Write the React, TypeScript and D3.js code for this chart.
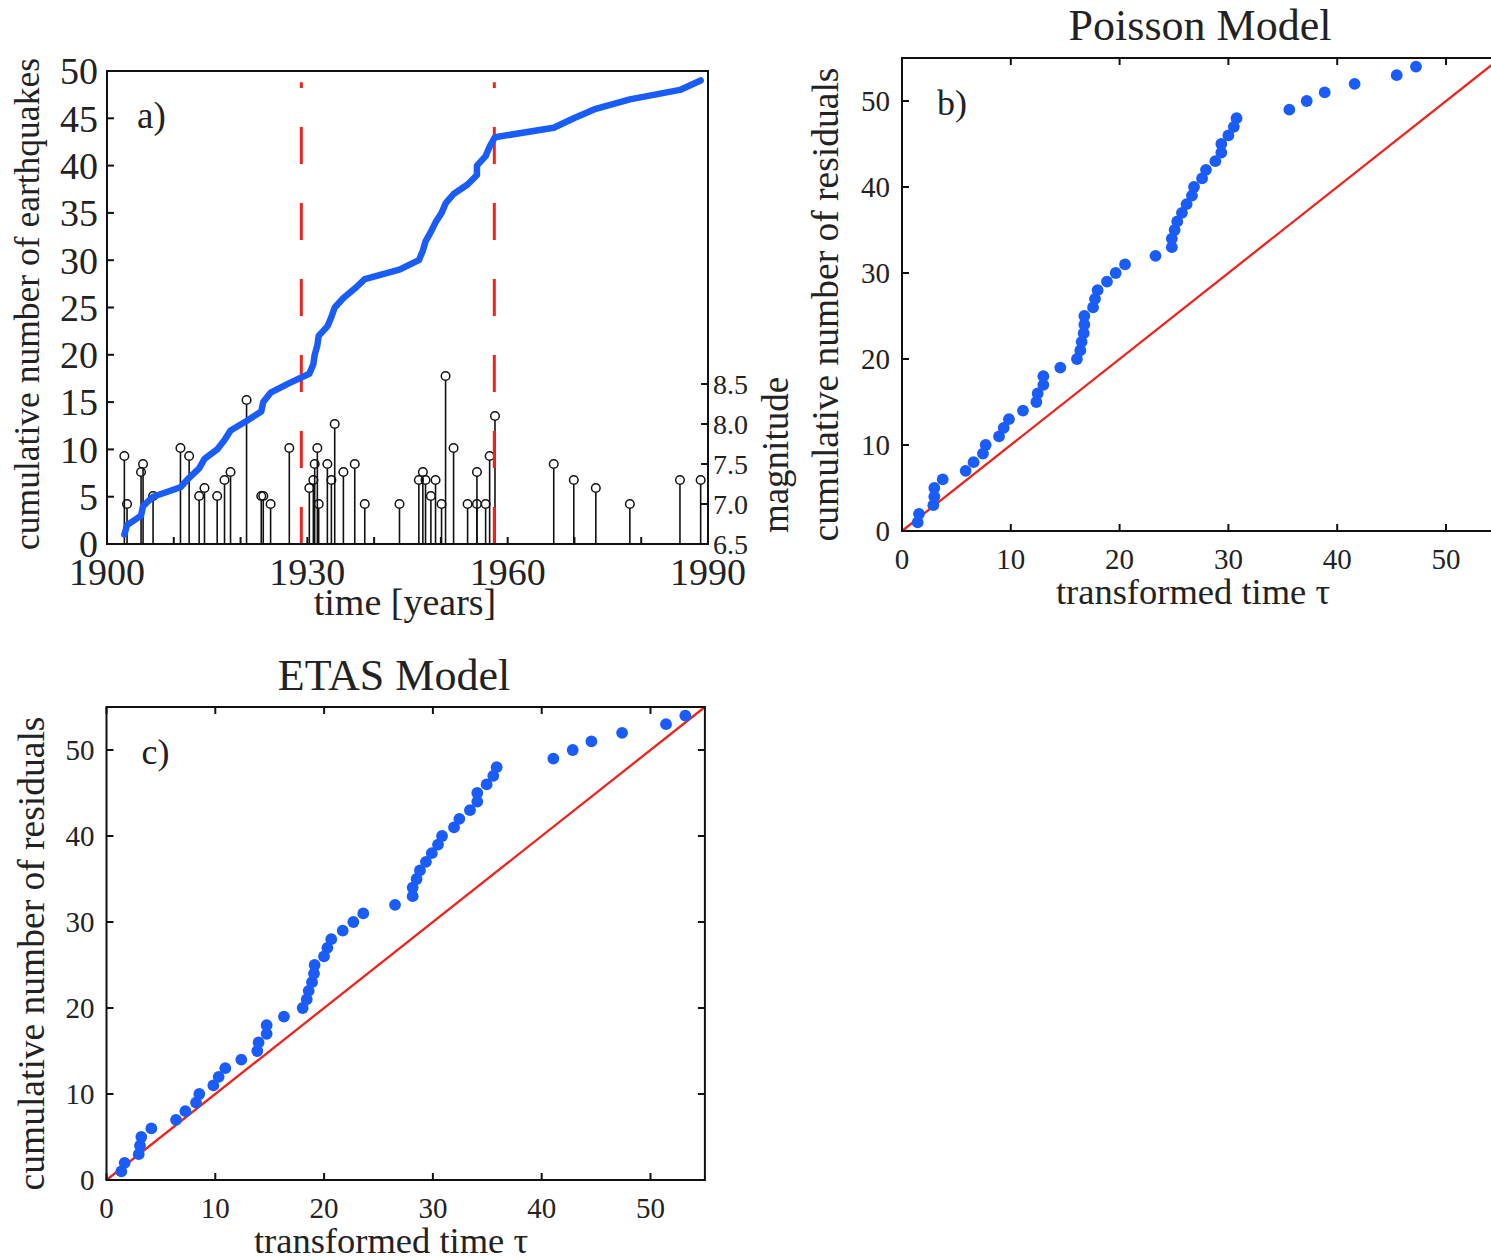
import React from 'react';
import * as d3 from 'd3';

const FONT = '"Liberation Serif", "Times New Roman", serif';
const BLUE = '#1a5cf8';
const RED = '#f0231c';

// Panel a: earthquake catalogue (year, magnitude)
const YEARS = [
  1902.6, 1903.0, 1905.1, 1905.4, 1906.9, 1911.0, 1912.3, 1913.8, 1914.6, 1916.5,
  1917.6, 1918.5, 1920.9, 1923.1, 1923.4, 1924.5, 1927.3, 1930.3, 1930.9, 1931.1,
  1931.5, 1931.7, 1933.0, 1933.6, 1934.1, 1935.4, 1937.1, 1938.6, 1943.8, 1946.7,
  1947.3, 1947.7, 1948.5, 1949.2, 1950.1, 1950.7, 1951.9, 1954.0, 1955.4, 1955.4,
  1956.7, 1957.3, 1958.1, 1966.9, 1969.9, 1973.2, 1978.3, 1985.8, 1988.9,
];
const MAGNITUDES = [
  7.6, 7.0, 7.4, 7.5, 7.1, 7.7, 7.6, 7.1, 7.2, 7.1,
  7.3, 7.4, 8.3, 7.1, 7.1, 7.0, 7.7, 7.2, 7.3, 7.5,
  7.7, 7.0, 7.5, 7.3, 8.0, 7.4, 7.5, 7.0, 7.0, 7.3,
  7.4, 7.3, 7.1, 7.3, 7.0, 8.6, 7.7, 7.0, 7.4, 7.0,
  7.0, 7.6, 8.1, 7.5, 7.3, 7.2, 7.0, 7.3, 7.3,
];
const DASHED_YEARS = [1929.1, 1958.0];
const DASH_TOP = 48.8;
const A_X_TICKS = [1900, 1910, 1920, 1930, 1940, 1950, 1960, 1970, 1980, 1990];
const A_X_LABELS = [1900, 1930, 1960, 1990];
const A_Y_TICKS = [0, 5, 10, 15, 20, 25, 30, 35, 40, 45, 50];
const MAG_TICKS = [6.5, 7.0, 7.5, 8.0, 8.5];

// Panels b and c: transformed times of residuals (cumulative count = 1..54)
const POISSON_TAU = [
  1.44, 1.56, 2.88, 2.97, 2.97, 3.74, 5.85, 6.58, 7.44, 7.69,
  8.92, 9.35, 9.83, 11.12, 12.35, 12.47, 12.99, 12.99, 14.55, 16.08,
  16.39, 16.51, 16.7, 16.76, 16.76, 17.56, 17.74, 17.98, 18.84, 19.64,
  20.5, 23.3, 24.8, 24.8, 25.06, 25.3, 25.73, 26.16, 26.65, 26.84,
  27.58, 27.94, 28.8, 29.35, 29.35, 30.0, 30.5, 30.75, 35.6, 37.2,
  38.85, 41.6, 45.47, 47.24,
];
const ETAS_TAU = [
  1.36, 1.67, 2.96, 3.08, 3.2, 4.12, 6.39, 7.25, 8.23, 8.53,
  9.82, 10.31, 10.92, 12.39, 13.86, 13.98, 14.72, 14.72, 16.31, 18.03,
  18.4, 18.58, 18.89, 19.07, 19.13, 19.99, 20.3, 20.66, 21.71, 22.69,
  23.6, 26.52, 28.14, 28.14, 28.5, 28.81, 29.36, 29.9, 30.47, 30.84,
  31.94, 32.43, 33.41, 34.08, 34.08, 34.94, 35.55, 35.86, 41.07, 42.85,
  44.57, 47.39, 51.43, 53.2,
];
const RES_TICKS = [0, 10, 20, 30, 40, 50];
const RES_DOMAIN = [0, 55];

function PanelA() {
  const x = d3.scaleLinear().domain([1900, 1990]).range([107, 708]);
  const y = d3.scaleLinear().domain([0, 50]).range([544, 71]);
  const m = d3.scaleLinear().domain([6.5, 12.4125]).range([544, 71]);
  const counts = YEARS.map((_, i) => i + 1);
  const line = d3.line<number>().x((d, i) => x(YEARS[i])).y((d) => y(d));
  const [x0, x1] = x.range();
  const [y0, y1] = y.range();
  return (
    <g>
      {YEARS.map((yr, i) => (
        <g key={'s' + i}>
          <line x1={x(yr)} x2={x(yr)} y1={m(6.5)} y2={m(MAGNITUDES[i]) + 4.3} stroke="#111" strokeWidth={1.6} />
          <circle cx={x(yr)} cy={m(MAGNITUDES[i])} r={4.3} fill="none" stroke="#111" strokeWidth={1.5} />
        </g>
      ))}
      {DASHED_YEARS.map((yr, i) => (
        <path key={'d' + i} d={`M${x(yr)},${y(0)}L${x(yr)},${y(DASH_TOP)}`} stroke={RED} strokeWidth={3} strokeDasharray="37 39" fill="none" />
      ))}
      <path d={line(counts) || ''} fill="none" stroke={BLUE} strokeWidth={6.5} strokeLinejoin="round" strokeLinecap="round" />
      <rect x={x0} y={y1} width={x1 - x0} height={y0 - y1} fill="none" stroke="#111" strokeWidth={2} />
      {A_Y_TICKS.map((t) => (
        <g key={'yt' + t}>
          <line x1={x0} x2={x0 + 7} y1={y(t)} y2={y(t)} stroke="#111" strokeWidth={2} />
          <text x={98} y={y(t)} dy="0.35em" textAnchor="end" fontSize={38} fontFamily={FONT} fill="#222">{t}</text>
        </g>
      ))}
      {A_X_TICKS.map((t) => (
        <line key={'xt' + t} x1={x(t)} x2={x(t)} y1={y0} y2={y0 - 7} stroke="#111" strokeWidth={2} />
      ))}
      {A_X_LABELS.map((t) => (
        <text key={'xl' + t} x={x(t)} y={585} textAnchor="middle" fontSize={38} fontFamily={FONT} fill="#222">{t}</text>
      ))}
      {MAG_TICKS.map((t) => (
        <g key={'mt' + t}>
          <line x1={x1} x2={x1 - 7} y1={m(t)} y2={m(t)} stroke="#111" strokeWidth={2} />
          <text x={713} y={m(t)} dy="0.35em" fontSize={28} fontFamily={FONT} fill="#222">{t.toFixed(1)}</text>
        </g>
      ))}
      <text x={137} y={128} fontSize={37} fontFamily={FONT} fill="#222">a)</text>
      <text x={405} y={615} textAnchor="middle" fontSize={38} fontFamily={FONT} fill="#222">time [years]</text>
      <text transform={`translate(39,304) rotate(-90)`} textAnchor="middle" fontSize={35.5} fontFamily={FONT} fill="#222">cumulative number of earthquakes</text>
      <text transform={`translate(788,455) rotate(-90)`} textAnchor="middle" fontSize={37} fontFamily={FONT} fill="#222">magnitude</text>
    </g>
  );
}

type ResProps = {
  left: number;
  bottom: number;
  data: number[];
  title: string;
  label: string;
  titleX: number;
  titleY: number;
  yTitleX: number;
  xTitleX: number;
};

function ResidualPanel({ left, bottom, data, title, label, titleX, titleY, yTitleX, xTitleX }: ResProps) {
  const w = 598.4;
  const h = 473;
  const x = d3.scaleLinear().domain(RES_DOMAIN).range([left, left + w]);
  const y = d3.scaleLinear().domain(RES_DOMAIN).range([bottom, bottom - h]);
  const top = bottom - h;
  const right = left + w;
  return (
    <g>
      <line x1={x(0)} y1={y(0)} x2={x(55)} y2={y(55)} stroke={RED} strokeWidth={2.3} />
      {data.map((t, i) => (
        <circle key={i} cx={x(t)} cy={y(i + 1)} r={5.9} fill={BLUE} />
      ))}
      <rect x={left} y={top} width={w} height={h} fill="none" stroke="#111" strokeWidth={2} />
      {RES_TICKS.map((t) => (
        <g key={'t' + t}>
          <line x1={x(t)} x2={x(t)} y1={bottom} y2={bottom - 7} stroke="#111" strokeWidth={2} />
          <line x1={x(t)} x2={x(t)} y1={top} y2={top + 7} stroke="#111" strokeWidth={2} />
          <line x1={left} x2={left + 7} y1={y(t)} y2={y(t)} stroke="#111" strokeWidth={2} />
          <line x1={right} x2={right - 7} y1={y(t)} y2={y(t)} stroke="#111" strokeWidth={2} />
          <text x={x(t)} y={bottom + 38} textAnchor="middle" fontSize={29} fontFamily={FONT} fill="#222">{t}</text>
          <text x={left - 12} y={y(t)} dy="0.35em" textAnchor="end" fontSize={29} fontFamily={FONT} fill="#222">{t}</text>
        </g>
      ))}
      <text x={titleX} y={titleY} textAnchor="middle" fontSize={44} fontFamily={FONT} fill="#222">{title}</text>
      <text x={left + 35} y={top + 57} fontSize={36} fontFamily={FONT} fill="#222">{label}</text>
      <text x={xTitleX} y={bottom + 73} textAnchor="middle" fontSize={36.5} fontFamily={FONT} fill="#222">transformed time τ</text>
      <text transform={`translate(${yTitleX},${bottom - h / 2 + 10}) rotate(-90)`} textAnchor="middle" fontSize={37.5} fontFamily={FONT} fill="#222">cumulative number of residuals</text>
    </g>
  );
}

export default function App() {
  return (
    <svg width={1491} height={1260} style={{ position: 'absolute', left: 0, top: 0, background: '#fff' }}>
      <rect x={0} y={0} width={1491} height={1260} fill="#fff" />
      <PanelA />
      <ResidualPanel left={902} bottom={531} data={POISSON_TAU} title="Poisson Model" label="b)" titleX={1200} titleY={40} yTitleX={838} xTitleX={1193} />
      <ResidualPanel left={106.5} bottom={1180} data={ETAS_TAU} title="ETAS Model" label="c)" titleX={394} titleY={690} yTitleX={44} xTitleX={391} />
    </svg>
  );
}
